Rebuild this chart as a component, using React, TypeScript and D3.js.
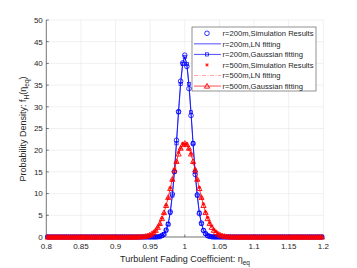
import React from 'react';
import * as d3 from 'd3';

const xGrid = [
  0.802,0.805,0.808,0.811,0.814,0.817,0.820,0.823,0.826,0.829,
  0.832,0.835,0.838,0.841,0.844,0.847,0.850,0.853,0.856,0.859,
  0.862,0.865,0.868,0.871,0.874,0.877,0.880,0.883,0.886,0.889,
  0.892,0.895,0.898,0.901,0.904,0.907,0.910,0.913,0.916,0.919,
  0.922,0.925,0.928,0.931,0.934,0.937,0.940,0.943,0.946,0.949,
  0.952,0.955,0.958,0.961,0.964,0.967,0.970,0.973,0.976,0.979,
  0.982,0.985,0.988,0.991,0.994,0.997,1.000,1.003,1.006,1.009,
  1.012,1.015,1.018,1.021,1.024,1.027,1.030,1.033,1.036,1.039,
  1.042,1.045,1.048,1.051,1.054,1.057,1.060,1.063,1.066,1.069,
  1.072,1.075,1.078,1.081,1.084,1.087,1.090,1.093,1.096,1.099,
  1.102,1.105,1.108,1.111,1.114,1.117,1.120,1.123,1.126,1.129,
  1.132,1.135,1.138,1.141,1.144,1.147,1.150,1.153,1.156,1.159,
  1.162,1.165,1.168,1.171,1.174,1.177,1.180,1.183,1.186,1.189,
  1.192,1.195,1.198,
];

const blueSim = [
  0,0,0,0,0,0,0,0,0,0,
  0,0,0,0,0,0,0,0,0,0,
  0,0,0,0,0,0,0,0,0,0,
  0,0,0,0,0,0,0,0,0,0,
  0,0,0,0,0,0,0,0,0,0,
  0,0,0,0.05,0.1,0.35,0.6,1.6,2.9,5.8,
  9.9,15.1,22.3,28.9,35.9,40.1,41.9,39.3,34.2,28.0,
  21.5,14.4,9.7,5.4,3.2,1.5,0.8,0.3,0.15,0.05,
  0,0,0,0,0,0,0,0,0,0,
  0,0,0,0,0,0,0,0,0,0,
  0,0,0,0,0,0,0,0,0,0,
  0,0,0,0,0,0,0,0,0,0,
  0,0,0,0,0,0,0,0,0,0,
  0,0,0,
];

const blueLN = [
  0,0,0,0,0,0,0,0,0,0,
  0,0,0,0,0,0,0,0,0,0,
  0,0,0,0,0,0,0,0,0,0,
  0,0,0,0,0,0,0,0,0,0,
  0,0,0,0,0,0,0,0,0,0,
  0,0,0.01,0.03,0.10,0.27,0.66,1.47,3.02,5.65,
  9.70,15.25,22.0,29.2,35.7,40.2,41.6,39.5,34.8,28.3,
  21.2,14.7,9.45,5.62,3.08,1.58,0.75,0.33,0.14,0.05,
  0.02,0,0,0,0,0,0,0,0,0,
  0,0,0,0,0,0,0,0,0,0,
  0,0,0,0,0,0,0,0,0,0,
  0,0,0,0,0,0,0,0,0,0,
  0,0,0,0,0,0,0,0,0,0,
  0,0,0,
];

const blueGauss = [
  0,0,0,0,0,0,0,0,0,0,
  0,0,0,0,0,0,0,0,0,0,
  0,0,0,0,0,0,0,0,0,0,
  0,0,0,0,0,0,0,0,0,0,
  0,0,0,0,0,0,0,0,0,0,
  0,0,0.01,0.04,0.12,0.30,0.70,1.52,3.05,5.62,
  9.55,14.96,21.60,28.74,35.25,39.84,41.5,39.84,35.25,28.74,
  21.60,14.96,9.55,5.62,3.05,1.52,0.70,0.30,0.12,0.04,
  0.01,0,0,0,0,0,0,0,0,0,
  0,0,0,0,0,0,0,0,0,0,
  0,0,0,0,0,0,0,0,0,0,
  0,0,0,0,0,0,0,0,0,0,
  0,0,0,0,0,0,0,0,0,0,
  0,0,0,
];

const redSim = [
  0,0,0,0,0,0,0,0,0,0,
  0,0,0,0,0,0,0,0,0,0,
  0,0,0,0,0,0,0,0,0,0,
  0,0,0,0,0,0,0,0,0,0,
  0,0,0,0,0.05,0,0.1,0.15,0.2,0.45,
  0.55,1.0,1.4,2.2,2.9,4.3,5.4,7.3,8.9,11.3,
  13.1,15.7,17.3,19.5,20.4,21.5,21.4,21.4,20.2,19.2,
  17.1,15.6,13.1,11.4,9.0,7.6,5.7,4.5,3.2,2.5,
  1.6,1.25,0.75,0.55,0.3,0.25,0.1,0.1,0.05,0,
  0.05,0,0,0,0,0,0,0,0,0,
  0,0,0,0,0,0,0,0,0,0,
  0,0,0,0,0,0,0,0,0,0,
  0,0,0,0,0,0,0,0,0,0,
  0,0,0,
];

const redLN = [
  0,0,0,0,0,0,0,0,0,0,
  0,0,0,0,0,0,0,0,0,0,
  0,0,0,0,0,0,0,0,0,0,
  0,0,0,0,0,0,0,0,0,0,
  0,0,0,0.01,0.02,0.04,0.07,0.13,0.23,0.38,
  0.61,0.95,1.44,2.11,3.00,4.13,5.52,7.17,9.06,11.13,
  13.31,15.48,17.50,19.24,20.55,21.35,21.6,21.25,20.38,19.03,
  17.32,15.37,13.30,11.22,9.23,7.40,5.80,4.43,3.30,2.40,
  1.70,1.18,0.80,0.53,0.34,0.22,0.14,0.08,0.05,0.03,
  0.02,0.01,0,0,0,0,0,0,0,0,
  0,0,0,0,0,0,0,0,0,0,
  0,0,0,0,0,0,0,0,0,0,
  0,0,0,0,0,0,0,0,0,0,
  0,0,0,
];

const redGauss = [
  0,0,0,0,0,0,0,0,0,0,
  0,0,0,0,0,0,0,0,0,0,
  0,0,0,0,0,0,0,0,0,0,
  0,0,0,0,0,0,0,0,0,0,
  0,0,0.01,0.02,0.03,0.06,0.10,0.17,0.28,0.44,
  0.69,1.05,1.55,2.23,3.12,4.25,5.64,7.27,9.14,11.18,
  13.32,15.44,17.42,19.14,20.47,21.31,21.6,21.31,20.47,19.14,
  17.42,15.44,13.32,11.18,9.14,7.27,5.64,4.25,3.12,2.23,
  1.55,1.05,0.69,0.44,0.28,0.17,0.10,0.06,0.03,0.02,
  0.01,0,0,0,0,0,0,0,0,0,
  0,0,0,0,0,0,0,0,0,0,
  0,0,0,0,0,0,0,0,0,0,
  0,0,0,0,0,0,0,0,0,0,
  0,0,0,
];

const xTicks = [0.8, 0.85, 0.9, 0.95, 1, 1.05, 1.1, 1.15, 1.2];
const xTickLabels = ['0.8', '0.85', '0.9', '0.95', '1', '1.05', '1.1', '1.15', '1.2'];
const yTicks = [0, 5, 10, 15, 20, 25, 30, 35, 40, 45, 50];

const legendLabels = [
  'r=200m,Simulation Results',
  'r=200m,LN fitting',
  'r=200m,Gaussian fitting',
  'r=500m,Simulation Results',
  'r=500m,LN fitting',
  'r=500m,Gaussian fitting',
];

const BLUE = '#0000ff';
const RED = '#ff0000';
const TXT = '#262626';
const GRID = '#e5e5e5';
const FONT = '"Liberation Sans", Arial, Helvetica, sans-serif';

function Circle({ cx, cy }: { cx: number; cy: number }) {
  return <circle cx={cx} cy={cy} r={2.3} fill="none" stroke={BLUE} strokeWidth={0.8} />;
}
function Square({ cx, cy }: { cx: number; cy: number }) {
  return <rect x={cx - 1.6} y={cy - 1.6} width={3.2} height={3.2} fill="none" stroke={BLUE} strokeWidth={0.7} />;
}
function Star({ cx, cy }: { cx: number; cy: number }) {
  const s = 1.8;
  const d = s * 0.72;
  return (
    <path
      d={`M${cx - s},${cy}L${cx + s},${cy}M${cx},${cy - s}L${cx},${cy + s}M${cx - d},${cy - d}L${cx + d},${cy + d}M${cx - d},${cy + d}L${cx + d},${cy - d}`}
      stroke={RED}
      strokeWidth={0.7}
      fill="none"
    />
  );
}
function Tri({ cx, cy }: { cx: number; cy: number }) {
  const s = 2.6;
  return (
    <path
      d={`M${cx},${cy - s}L${cx + s},${cy + s * 0.8}L${cx - s},${cy + s * 0.8}Z`}
      fill="none"
      stroke={RED}
      strokeWidth={0.9}
    />
  );
}

export default function App() {
  const W = 357;
  const H = 268;
  const x = d3.scaleLinear().domain([0.8, 1.2]).range([46.3, 323.3]);
  const y = d3.scaleLinear().domain([0, 50]).range([237, 20]);
  const mkLine = (vals: number[]) =>
    d3.line<number>().x((_, i) => x(xGrid[i])).y((d) => y(d))(vals) || '';

  const legX0 = 192;
  const legY0 = 27;
  const rowY = (i: number) => 33.3 + i * 10.55;

  return (
    <svg
      width={W}
      height={H}
      viewBox={`0 0 ${W} ${H}`}
      style={{ position: 'absolute', left: 0, top: 0, background: '#fff' }}
      fontFamily={FONT}
    >
      <rect x={0} y={0} width={W} height={H} fill="#fff" />
      {xTicks.map((t) => (
        <line key={'gx' + t} x1={x(t)} x2={x(t)} y1={y(0)} y2={y(50)} stroke={GRID} strokeWidth={0.6} />
      ))}
      {yTicks.map((t) => (
        <line key={'gy' + t} x1={x(0.8)} x2={x(1.2)} y1={y(t)} y2={y(t)} stroke={GRID} strokeWidth={0.6} />
      ))}
      <line x1={x(0.8)} x2={x(0.8)} y1={y(0)} y2={y(50)} stroke={TXT} strokeWidth={0.6} />
      <line x1={x(0.8)} x2={x(1.2)} y1={y(0)} y2={y(0)} stroke={TXT} strokeWidth={0.6} />
      {yTicks.map((t) => (
        <line key={'ty' + t} x1={x(0.8)} x2={x(0.8) + 2.5} y1={y(t)} y2={y(t)} stroke={TXT} strokeWidth={0.6} />
      ))}
      {xTicks.map((t) => (
        <line key={'tx' + t} x1={x(t)} x2={x(t)} y1={y(0)} y2={y(0) - 2.5} stroke={TXT} strokeWidth={0.6} />
      ))}
      {yTicks.map((t) => (
        <text key={'ly' + t} x={x(0.8) - 3.5} y={y(t)} dy="0.35em" textAnchor="end" fontSize={8} fill={TXT}>
          {t}
        </text>
      ))}
      {xTicks.map((t, i) => (
        <text key={'lx' + t} x={x(t)} y={y(0) + 12} textAnchor="middle" fontSize={8} fill={TXT}>
          {xTickLabels[i]}
        </text>
      ))}
      <text x={185} y={262} textAnchor="middle" fontSize={9} fill={TXT}>
        Turbulent Fading Coefficient: η
        <tspan fontSize={6.5} dy={2.5}>eq</tspan>
      </text>
      <text transform="translate(26,129) rotate(-90)" textAnchor="middle" fontSize={9} fill={TXT}>
        Probability Density: f
        <tspan fontSize={6.5} dy={2.5}>H</tspan>
        <tspan dy={-2.5}>(η</tspan>
        <tspan fontSize={6.5} dy={2.5}>eq</tspan>
        <tspan dy={-2.5}>)</tspan>
      </text>

      {xGrid.map((xv, i) => (
        <Circle key={'bs' + i} cx={x(xv)} cy={y(blueSim[i])} />
      ))}
      <path d={mkLine(blueLN)} fill="none" stroke={BLUE} strokeWidth={0.7} />
      <path d={mkLine(blueGauss)} fill="none" stroke={BLUE} strokeWidth={0.7} />
      {xGrid.map((xv, i) => (
        <Square key={'bg' + i} cx={x(xv)} cy={y(blueGauss[i])} />
      ))}
      {xGrid.map((xv, i) => (
        <Star key={'rs' + i} cx={x(xv)} cy={y(redSim[i])} />
      ))}
      <path d={mkLine(redLN)} fill="none" stroke={RED} strokeWidth={0.6} strokeDasharray="4,1.5,1,1.5" opacity={0.6} />
      <path d={mkLine(redGauss)} fill="none" stroke={RED} strokeWidth={0.7} />
      {xGrid.map((xv, i) => (
        <Tri key={'rg' + i} cx={x(xv)} cy={y(redGauss[i])} />
      ))}

      <rect x={legX0} y={legY0} width={124} height={64} fill="#fff" stroke={TXT} strokeWidth={0.5} />
      <Circle cx={207} cy={rowY(0)} />
      <line x1={194} x2={221} y1={rowY(1)} y2={rowY(1)} stroke={BLUE} strokeWidth={0.7} />
      <line x1={194} x2={221} y1={rowY(2)} y2={rowY(2)} stroke={BLUE} strokeWidth={0.7} />
      <Square cx={207} cy={rowY(2)} />
      <Star cx={207} cy={rowY(3)} />
      <line x1={194} x2={221} y1={rowY(4)} y2={rowY(4)} stroke={RED} strokeWidth={0.6} strokeDasharray="4,1.5,1,1.5" opacity={0.6} />
      <line x1={194} x2={221} y1={rowY(5)} y2={rowY(5)} stroke={RED} strokeWidth={0.7} />
      <Tri cx={207} cy={rowY(5)} />
      {legendLabels.map((l, i) => (
        <text key={'lg' + i} x={222.5} y={rowY(i)} dy="0.35em" fontSize={7.6} fill={TXT}>
          {l}
        </text>
      ))}
    </svg>
  );
}
